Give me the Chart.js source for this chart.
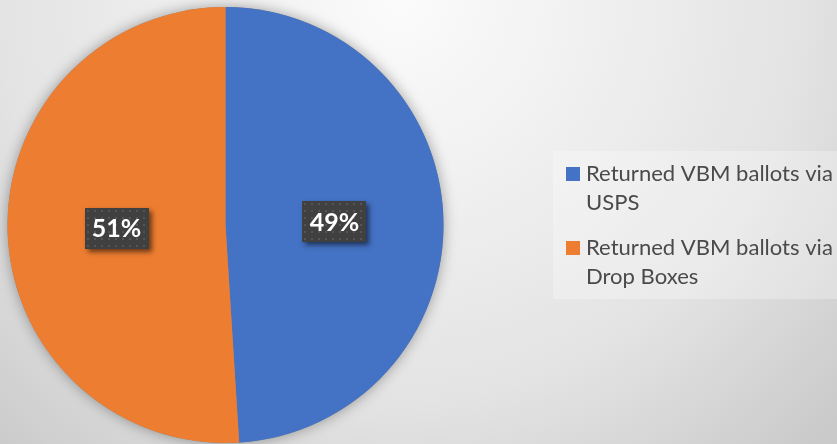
<!DOCTYPE html>
<html>
<head>
<meta charset="utf-8">
<script src="https://cdn.jsdelivr.net/npm/chart.js@4/dist/chart.umd.min.js"></script>
<style>
  html, body { margin: 0; padding: 0; background: #dcdcdc; }
  #wrap { width: 837px; height: 444px; position: relative; }
</style>
</head>
<body>
<div id="wrap"><canvas id="c" width="837" height="444"></canvas></div>
<script>
const categories = ["Returned VBM ballots via USPS", "Returned VBM ballots via Drop Boxes"];
const legendLines = [["Returned VBM ballots via", "USPS"], ["Returned VBM ballots via", "Drop Boxes"]];
const values = [49, 51];
const colors = ["#4472C4", "#ED7D31"];

function makePattern(ctx) {
  const p = document.createElement('canvas');
  p.width = 7; p.height = 7;
  const g = p.getContext('2d');
  g.fillStyle = '#404040';
  g.fillRect(0, 0, 7, 7);
  g.fillStyle = '#555555';
  g.fillRect(2, 2, 2, 2);
  return ctx.createPattern(p, 'repeat');
}

const bgPlugin = {
  id: 'bg',
  beforeDraw(chart) {
    const ctx = chart.ctx;
    const w = chart.width, h = chart.height;
    ctx.save();
    const grd = ctx.createRadialGradient(400, 0, 0, 400, 0, 650);
    grd.addColorStop(0, '#fbfbfb');
    grd.addColorStop(0.3, '#f0f0f0');
    grd.addColorStop(0.62, '#e3e3e3');
    grd.addColorStop(0.92, '#cbcbcb');
    grd.addColorStop(1, '#c6c6c6');
    ctx.fillStyle = grd;
    ctx.fillRect(0, 0, w, h);
    ctx.restore();
  },
  beforeDatasetsDraw(chart) {
    const ctx = chart.ctx;
    ctx.save();
    ctx.shadowColor = 'rgba(0,0,0,0.35)';
    ctx.shadowBlur = 14;
    const meta = chart.getDatasetMeta(0);
    const a = meta.data[0];
    ctx.beginPath();
    ctx.arc(a.x, a.y, a.outerRadius, 0, Math.PI * 2);
    ctx.fillStyle = '#888';
    ctx.fill();
    ctx.restore();
  },
  afterDatasetsDraw(chart) {
    const ctx = chart.ctx;
    const meta = chart.getDatasetMeta(0);
    const data = chart.data.datasets[0].data;
    const total = data.reduce((s, v) => s + v, 0);
    const pat = makePattern(ctx);
    meta.data.forEach((arc, i) => {
      const pos = arc.tooltipPosition();
      const bw = 64, bh = 41;
      const x0 = Math.round(pos.x - bw / 2), y0 = Math.round(pos.y - bh / 2);
      ctx.save();
      ctx.shadowColor = 'rgba(0,0,0,0.55)';
      ctx.shadowBlur = 5;
      ctx.shadowOffsetX = 3;
      ctx.shadowOffsetY = 3;
      ctx.fillStyle = '#404040';
      ctx.fillRect(x0, y0, bw, bh);
      ctx.restore();
      ctx.save();
      ctx.fillStyle = pat;
      ctx.translate(x0, y0);
      ctx.fillRect(0, 0, bw, bh);
      ctx.restore();
      ctx.save();
      ctx.fillStyle = '#ffffff';
      ctx.font = 'bold 25px Lato';
      ctx.textAlign = 'center';
      ctx.textBaseline = 'middle';
      ctx.fillText(Math.round(data[i] / total * 100) + '%', pos.x, pos.y + 1);
      ctx.restore();
    });
  },
  afterDraw(chart) {
    const ctx = chart.ctx;
    ctx.save();
    ctx.fillStyle = 'rgba(255,255,255,0.28)';
    ctx.fillRect(553, 151, 284, 148);
    let fs = 20;
    ctx.font = fs + 'px Lato';
    const wtest = ctx.measureText(legendLines[0][0]).width;
    fs = fs * 247 / wtest;
    ctx.font = fs.toFixed(2) + 'px Lato';
    ctx.textBaseline = 'alphabetic';
    ctx.textAlign = 'left';
    const baselines = [[181, 210], [255, 284]];
    legendLines.forEach((lines, i) => {
      ctx.fillStyle = chart.data.datasets[0].backgroundColor[i];
      ctx.fillRect(566, baselines[i][0] - 14, 14, 14);
      ctx.fillStyle = '#4a4a4a';
      lines.forEach((t, j) => ctx.fillText(t, 586, baselines[i][j]));
    });
    ctx.restore();
  }
};

new Chart(document.getElementById('c'), {
  type: 'pie',
  data: {
    labels: categories,
    datasets: [{
      data: values,
      backgroundColor: colors,
      borderWidth: 0,
      hoverOffset: 0
    }]
  },
  options: {
    responsive: false,
    animation: false,
    events: [],
    layout: { padding: { left: 7, top: 7, right: 393, bottom: 1 } },
    plugins: {
      legend: { display: false },
      tooltip: { enabled: false }
    }
  },
  plugins: [bgPlugin]
});
</script>
</body>
</html>
